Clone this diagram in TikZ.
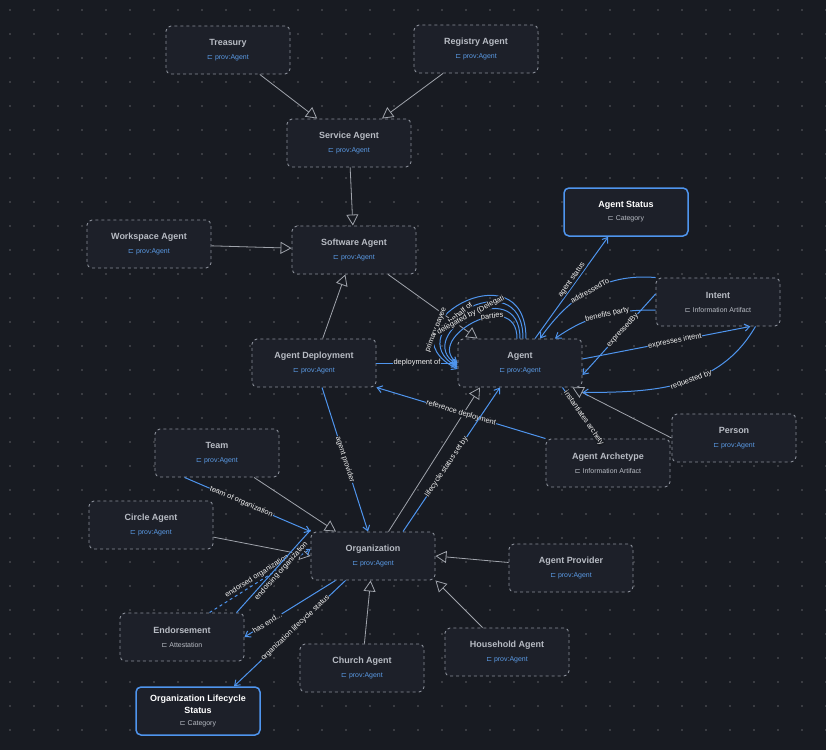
\documentclass[tikz,border=0pt]{standalone}
\usepackage{fontspec}
\setmainfont{Liberation Sans}
\newfontfamily\sym{DejaVu Sans}
\usetikzlibrary{arrows.meta,positioning}
\definecolor{bg}{HTML}{181B22}
\definecolor{nodefill}{HTML}{1D2029}
\definecolor{bord}{HTML}{8A8F99}
\definecolor{ttl}{HTML}{B8BCC4}
\definecolor{sub}{HTML}{5B9BE6}
\definecolor{blu}{HTML}{4F95EE}
\definecolor{gline}{HTML}{A0A4AC}
\begin{document}
\begin{tikzpicture}[x=1bp,y=-1bp,
  box/.style={draw=bord,dashed,line width=0.9bp,rounded corners=5bp,fill=nodefill,minimum width=124bp,minimum height=48bp,align=center,inner sep=2bp},
  cat/.style={draw=blu,solid,line width=1.5bp,rounded corners=5bp,fill=nodefill,minimum width=124bp,minimum height=48bp,align=center,inner sep=2bp,text=white},
  inh/.style={draw=gline,line width=0.8bp,-{Triangle[open,length=11bp,width=12bp,fill=bg]}},
  rel/.style={draw=blu,line width=1bp,-{Straight Barb[length=5bp,width=7bp]}},
  lbl/.style={text=white!90!gray,font=\fontsize{7.5}{8}\selectfont,fill=bg,inner sep=0.5bp,sloped},
]
\useasboundingbox (0,0) rectangle (826,750);
\fill[bg] (0,0) rectangle (826,750);
\foreach \i in {0,...,34}{\foreach \j in {0,...,30}{\fill[white!30!bg] (10+24*\i,10+24*\j) circle (0.8bp);}}
\newcommand{\bx}[4]{\node[box] (#1) at (#2) {\fontsize{9}{11}\selectfont\bfseries\color{ttl}#3\\[2bp]\fontsize{7}{9}\selectfont\mdseries\color{sub}{\sym ⊏} #4};}
\newcommand{\gx}[4]{\node[box] (#1) at (#2) {\fontsize{9}{11}\selectfont\bfseries\color{ttl}#3\\[2bp]\fontsize{7}{9}\selectfont\mdseries\color{ttl}{\sym ⊏} #4};}
\newcommand{\cx}[4]{\node[cat,font=\bfseries] (#1) at (#2) {\fontsize{9}{10}\selectfont#3\\[1bp]\fontsize{7}{9}\selectfont\mdseries\color{ttl}{\sym ⊏} #4};}
\bx{tre}{228,50}{Treasury}{prov:Agent}
\bx{reg}{476,49}{Registry Agent}{prov:Agent}
\bx{ser}{349,143}{Service Agent}{prov:Agent}
\bx{sof}{354,250}{Software Agent}{prov:Agent}
\bx{wor}{149,244}{Workspace Agent}{prov:Agent}
\cx{sta}{626,212}{Agent Status}{Category}
\gx{int}{718,302}{Intent}{Information Artifact}
\bx{age}{520,363}{Agent}{prov:Agent}
\bx{dep}{314,363}{Agent Deployment}{prov:Agent}
\bx{per}{734,438}{Person}{prov:Agent}
\gx{arc}{608,463}{Agent Archetype}{Information Artifact}
\bx{tea}{217,453}{Team}{prov:Agent}
\bx{cir}{151,525}{Circle Agent}{prov:Agent}
\bx{org}{373,556}{Organization}{prov:Agent}
\bx{pro}{571,568}{Agent Provider}{prov:Agent}
\gx{end}{182,637}{Endorsement}{Attestation}
\bx{hou}{507,652}{Household Agent}{prov:Agent}
\bx{chu}{362,668}{Church Agent}{prov:Agent}
\cx{ols}{198,711}{Organization Lifecycle\\\fontsize{9}{10}\selectfont Status}{Category}
% inheritance
\draw[inh] (tre) -- (ser);
\draw[inh] (reg) -- (ser);
\draw[inh] (ser) -- (sof);
\draw[inh] (wor) -- (sof);
\draw[inh] (dep) -- (sof);
\draw[inh] (sof) -- ([xshift=20bp]age.north west);
\draw[inh] (per.west) -- ([xshift=-10bp]age.south east);
\draw[inh] (org) -- ([xshift=-40bp]age.south);
\draw[inh] (tea) -- (org);
\draw[inh] (cir) -- (org.west);
\draw[inh] (pro) -- (org.east);
\draw[inh] (hou) -- (org.south east);
\draw[inh] (chu) -- (org);
% relations
\draw[rel] ([xshift=15bp]age.north) -- node[lbl,above,pos=0.55]{agent status} (sta);
\draw[rel] (int.north west) to[out=175,in=55] node[lbl,pos=0.5]{addressedTo} ([xshift=20bp]age.north);
\draw[rel] ([yshift=-8bp]int.west) to[out=180,in=35] node[lbl,pos=0.45]{benefits party} ([xshift=35bp]age.north);
\draw[rel] ([yshift=8bp]int.west) -- node[lbl,pos=0.45]{expressedBy} ([yshift=-12bp]age.east);
\draw[rel] ([yshift=4bp]age.east) -- node[lbl,pos=0.55]{expresses intent} ([xshift=-30bp]int.south east);
\draw[rel] ([xshift=-25bp]int.south east) to[out=240,in=0] node[lbl,pos=0.45]{requested by} ([yshift=-5bp]age.south east);
\draw[rel] ([xshift=6bp]age.north) .. controls +(0,-95) and +(-80,-40) .. ([yshift=-6bp]age.west) node[lbl,pos=0.72]{primary payee};
\draw[rel] ([xshift=3bp]age.north) .. controls +(0,-82) and +(-62,-35) .. ([yshift=-4bp]age.west) node[lbl,pos=0.58]{on behalf of};
\draw[rel] ([xshift=0bp]age.north) .. controls +(0,-68) and +(-48,-30) .. ([yshift=-2bp]age.west) node[lbl,pos=0.5]{delegated by (Delegati};
\draw[rel] ([xshift=-3bp]age.north) .. controls +(0,-52) and +(-34,-25) .. ([yshift=0bp]age.west) node[lbl,pos=0.35]{parties};
\draw[rel] (dep) -- node[lbl]{deployment of} (age);
\draw[rel] (arc.north west) -- node[lbl]{reference deployment} (dep.south east);
\draw[rel] ([xshift=-20bp]age.south east) -- node[lbl,pos=0.6]{instantiates archety} ([xshift=-10bp]arc.north);
\draw[rel] ([xshift=8bp]dep.south) -- node[lbl]{agent provider} ([xshift=-5bp]org.north);
\draw[rel] ([xshift=30bp]org.north) -- node[lbl,pos=0.45]{lifecycle status set by} ([xshift=-20bp]age.south);
\draw[rel] ([xshift=30bp]tea.south west) -- node[lbl,pos=0.45]{team of organization} (org.north west);
\draw[rel,dashed] ([xshift=90bp]end.north west) -- node[lbl,pos=0.5,above=1bp]{endorsed organization} ([yshift=7bp]org.west);
\draw[draw=blu,line width=1bp] ([xshift=117bp]end.north west) -- node[lbl,pos=0.55,below=1bp]{endorsing organization} ([yshift=26bp]org.west);
\draw[rel] ([xshift=25bp]org.south west) -- node[lbl,pos=0.75]{has end...} (end.east);
\draw[rel] ([xshift=35bp]org.south west) -- node[lbl,pos=0.45]{organization lifecycle status} ([xshift=36bp]ols.north);
\end{tikzpicture}
\end{document}
